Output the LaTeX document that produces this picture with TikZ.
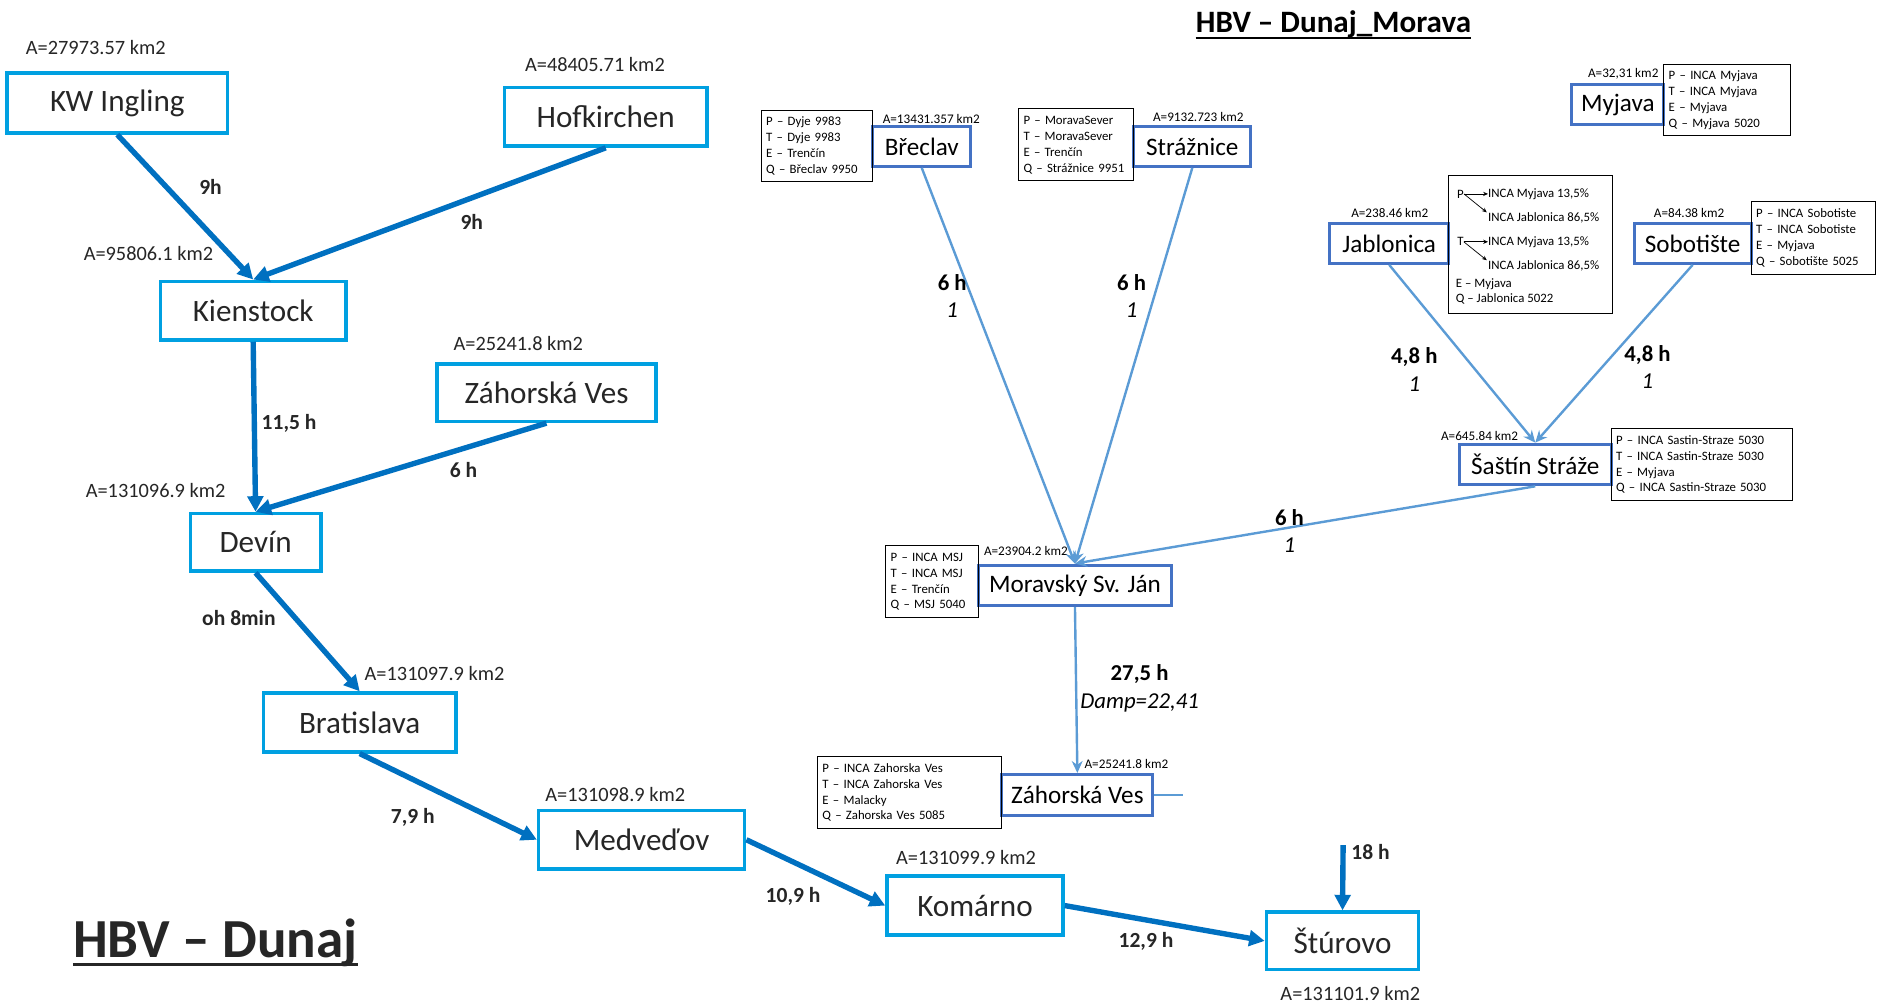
\documentclass[tikz,border=0pt]{standalone}
\usepackage{fontspec}
\setmainfont{Carlito}
\newfontfamily\dunajfont{Carlito}
\usepackage{tikz}
\usetikzlibrary{arrows.meta, positioning}
\definecolor{dunajblue}{RGB}{0,160,225}
\definecolor{riverblue}{RGB}{0,112,192}
\definecolor{moravablue}{RGB}{68,114,196}
\definecolor{tribblue}{RGB}{91,155,213}
\definecolor{dunajtext}{RGB}{38,38,38}
\tikzset{
>={Stealth[length=4pt,width=3.5pt]}, % small heads inside the Jablonica box
dunaj/.style={draw=dunajblue, line width=3pt, inner sep=0pt, text=dunajtext,
  font=\dunajfont\fontsize{26}{30}\selectfont}, % stations on the Danube
morava/.style={draw=moravablue, line width=2.5pt, inner sep=0pt,
  minimum height=33pt, font=\fontsize{21}{24}\selectfont}, % stations on the Morava
info/.style={draw, line width=0.8pt, inner xsep=4pt, inner ysep=0pt, align=left,
  minimum height=60pt, font=\fontsize{10.7}{13.3}\selectfont}, % P/T/E/Q inputs
note/.style={inner sep=0pt, font=\fontsize{10.7}{13.3}\selectfont},
area/.style={inner sep=0pt, text=dunajtext, font=\dunajfont\fontsize{17}{20}\selectfont},
smallarea/.style={inner sep=0pt, font=\fontsize{11}{13}\selectfont},
hours/.style={inner sep=0pt, text=dunajtext, font=\dunajfont\bfseries\fontsize{18}{21}\selectfont},
lag/.style={inner sep=0pt, align=center, text=black, font=\fontsize{19}{23}\selectfont},
river/.style={-{Triangle[length=13pt,width=13pt]}, draw=riverblue, line width=4.5pt},
tributary/.style={-{Stealth[length=10pt,width=9pt]}, draw=tribblue, line width=2pt},
}

\begin{document}
\begin{tikzpicture}[x=1pt, y=-1pt]%units follow the screenshot
  \useasboundingbox (0,0) rectangle (1568,840);

  % Dunaj
  \node[dunaj, minimum width=184pt, minimum height=50pt] (kw) at (98,86) {KW Ingling};
  \node[dunaj, minimum width=169pt, minimum height=49pt] (hof) at (506,97.5) {Hofkirchen};
  \node[dunaj, minimum width=155pt, minimum height=49pt] (kien) at (211.5,259.5) {Kienstock};
  \node[dunaj, minimum width=183pt, minimum height=48pt] (zv) at (456.5,328) {Záhorská Ves};
  \node[dunaj, minimum width=109pt, minimum height=48pt] (devin) at (213.5,453) {Devín};
  \node[dunaj, minimum width=161pt, minimum height=49pt] (bra) at (300.5,603.5) {Bratislava};
  \node[dunaj, minimum width=172pt, minimum height=49pt] (med) at (536,701.5) {Medveďov};
  \node[dunaj, minimum width=147pt, minimum height=49pt] (kom) at (814.5,756.5) {Komárno};
  \node[dunaj, minimum width=127pt, minimum height=48pt] (stu) at (1121.5,786) {Štúrovo};
  \coordinate (inflow) at (1122,706);

  \node[area] (kwA) at (80,40) {A=27973.57 km2};
  \node[area] (hofA) at (497,54) {A=48405.71 km2};
  \node[area] (kienA) at (124,212) {A=95806.1 km2};
  \node[area] (zvA) at (433,287) {A=25241.8 km2};
  \node[area] (devinA) at (130,410) {A=131096.9 km2};
  \node[area] (braA) at (363,563) {A=131097.9 km2};
  \node[area] (medA) at (514,664) {A=131098.9 km2};
  \node[area] (komA) at (807,716) {A=131099.9 km2};
  \node[area] (stuA) at (1128,830) {A=131101.9 km2};

  \node[anchor=base, inner sep=0pt, text=dunajtext, font=\bfseries\fontsize{46}{50}\selectfont]
    (dunajtitle) at (180,800) {HBV – Dunaj};
  \draw[dunajtext, line width=2.5pt] ([yshift=-6pt]dunajtitle.base west) -- ([yshift=-6pt]dunajtitle.base east);

  \path
  (kw.south) edge[river] node[hours, name=t1, pos=.36, xshift=37pt]{9h} (kien.north)
  (hof.south) edge[river] node[hours, name=t2, pos=.38, yshift=-20pt]{9h} (kien.north)
  (kien.south) edge[river] node[hours, name=t3, pos=.48, xshift=29pt]{11,5 h} (devin.north)
  (zv.south) edge[river] node[hours, name=t4, pos=.285, yshift=-18pt]{6 h} (devin.north)
  (devin.south) edge[river] node[hours, name=t5, pos=.38, xshift=-47pt]{oh 8min} (bra.north)
  (bra.south) edge[river] node[hours, name=t6, pos=.3, yshift=-32pt]{7,9 h} (med.west)
  (med.east) edge[river] node[hours, name=t7, pos=.336, yshift=-29pt]{10,9 h} (kom.west)
  (kom.east) edge[river] node[hours, name=t8, pos=.406, yshift=-18pt]{12,9 h} (stu.west)
  (inflow) edge[river] node[hours, name=t9, pos=.1, xshift=23pt]{18 h} (stu.north);

  % Morava
  \node[anchor=base, inner sep=0pt, font=\bfseries\fontsize{26}{30}\selectfont]
    (moravatitle) at (1114,27) {HBV – Dunaj\_Morava};
  \draw[line width=1.7pt] ([yshift=-5pt]moravatitle.base west) -- ([yshift=-5pt]moravatitle.base east);

  \node[morava, minimum width=82pt] (brec) at (770,122.5) {Břeclav};
  \node[morava, minimum width=98pt] (straz) at (996,122.5) {Strážnice};
  \node[morava, minimum width=77pt] (myj) at (1351.5,87.5) {Myjava};
  \node[morava, minimum width=99pt] (jab) at (1160.5,203.5) {Jablonica};
  \node[morava, minimum width=98pt] (sob) at (1414,203.5) {Sobotište};
  \node[morava, minimum width=127pt, minimum height=34pt] (sas) at (1282.5,388) {Šaštín Stráže};
  \node[morava, minimum width=162pt, minimum height=34pt] (msj) at (898,489) {Moravský Sv. Ján};
  \node[morava, minimum width=126pt, minimum height=34pt] (zvm) at (900,664) {Záhorská Ves};
  \coordinate (stub) at (988,664);

  \node[smallarea] (brecA) at (778,99) {A=13431.357 km2};
  \node[smallarea] (strazA) at (1001,98) {A=9132.723 km2};
  \node[smallarea] (myjA) at (1356,62) {A=32,31 km2};
  \node[smallarea] (jabA) at (1161,178) {A=238.46 km2};
  \node[smallarea] (sobA) at (1411,178) {A=84.38 km2};
  \node[smallarea] (sasA) at (1236,364) {A=645.84 km2};
  \node[smallarea] (msjA) at (857,460) {A=23904.2 km2};
  \node[smallarea] (zvmA) at (941,638) {A=25241.8 km2};

  \node[info, text width=85pt] (brecinfo) at (682.5,122) {P – Dyje 9983\\T – Dyje 9983\\E – Trenčín\\Q – Břeclav 9950};
  \node[info, text width=88pt] (strazinfo) at (899,121) {P – MoravaSever\\T – MoravaSever\\E – Trenčín\\Q – Strážnice 9951};
  \node[info, text width=98pt, minimum height=59pt] (myjinfo) at (1443,83.5) {P – INCA Myjava\\T – INCA Myjava\\E – Myjava\\Q – Myjava 5020};
  \node[info, text width=96pt, minimum height=61pt] (sobinfo) at (1515,198.5) {P – INCA Sobotiste\\T – INCA Sobotiste\\E – Myjava\\Q – Sobotište 5025};
  \node[info, text width=143pt] (sasinfo) at (1421.5,388) {P – INCA Sastin-Straze 5030\\T – INCA Sastin-Straze 5030\\E – Myjava\\Q – INCA Sastin-Straze 5030};
  \node[info, text width=69pt] (msjinfo) at (778.5,486) {P – INCA MSJ\\T – INCA MSJ\\E – Trenčín\\Q – MSJ 5040};
  \node[info, text width=146pt] (zvminfo) at (760,662) {P – INCA Zahorska Ves\\T – INCA Zahorska Ves\\E – Malacky\\Q – Zahorska Ves 5085};

  \node[info, minimum width=137pt, minimum height=115pt] (jabinfo) at (1278.5,204.5) {};
  \node[note] (jabP) at (1220,162) {P};
  \node[note, anchor=west] (jabPm) at (1243,162) {INCA Myjava 13,5\%};
  \node[note, anchor=west] (jabPj) at (1243,182) {INCA Jablonica 86,5\%};
  \node[note] (jabT) at (1220,202) {T};
  \node[note, anchor=west] (jabTm) at (1243,202) {INCA Myjava 13,5\%};
  \node[note, anchor=west] (jabTj) at (1243,222) {INCA Jablonica 86,5\%};
  \node[note, anchor=west] (jabE) at (1216,237) {E – Myjava};
  \node[note, anchor=west] (jabQ) at (1216,250) {Q – Jablonica 5022};
  \draw[->, line width=0.6pt] (jabP.east) -- (jabPm.west);
  \draw[->, line width=0.6pt] (jabP.east) -- ([xshift=-1pt]jabPj.north west);
  \draw[->, line width=0.6pt] (jabT.east) -- (jabTm.west);
  \draw[->, line width=0.6pt] (jabT.east) -- ([xshift=-1pt]jabTj.north west);

  \path
  (brec.south) edge[tributary] node[lag, name=r1, pos=.324, xshift=-16pt]{\textbf{6 h}\\\textit{1}} (msj.north)
  (straz.south) edge[tributary] node[lag, name=r2, pos=.324, xshift=-19pt]{\textbf{6 h}\\\textit{1}} (msj.north)
  (sas.south) edge[tributary] node[lag, name=r3, pos=.534, yshift=-3pt]{\textbf{6 h}\\\textit{1}} (msj.north)
  (jab.south) edge[tributary] node[lag, name=r4, pos=.59, xshift=-51pt]{\textbf{4,8 h}\\\textit{1}} (sas.north)
  (sob.south) edge[tributary] node[lag, name=r5, pos=.576, xshift=38pt]{\textbf{4,8 h}\\\textit{1}} (sas.north)
  (msj.south) edge[tributary] node[lag, name=r6, pos=.49, xshift=53pt]{\textbf{27,5 h}\\\textit{Damp=22,41}} (zvm.north)
  (zvm.east) edge[tributary, -] (stub);
\end{tikzpicture}
\end{document}
